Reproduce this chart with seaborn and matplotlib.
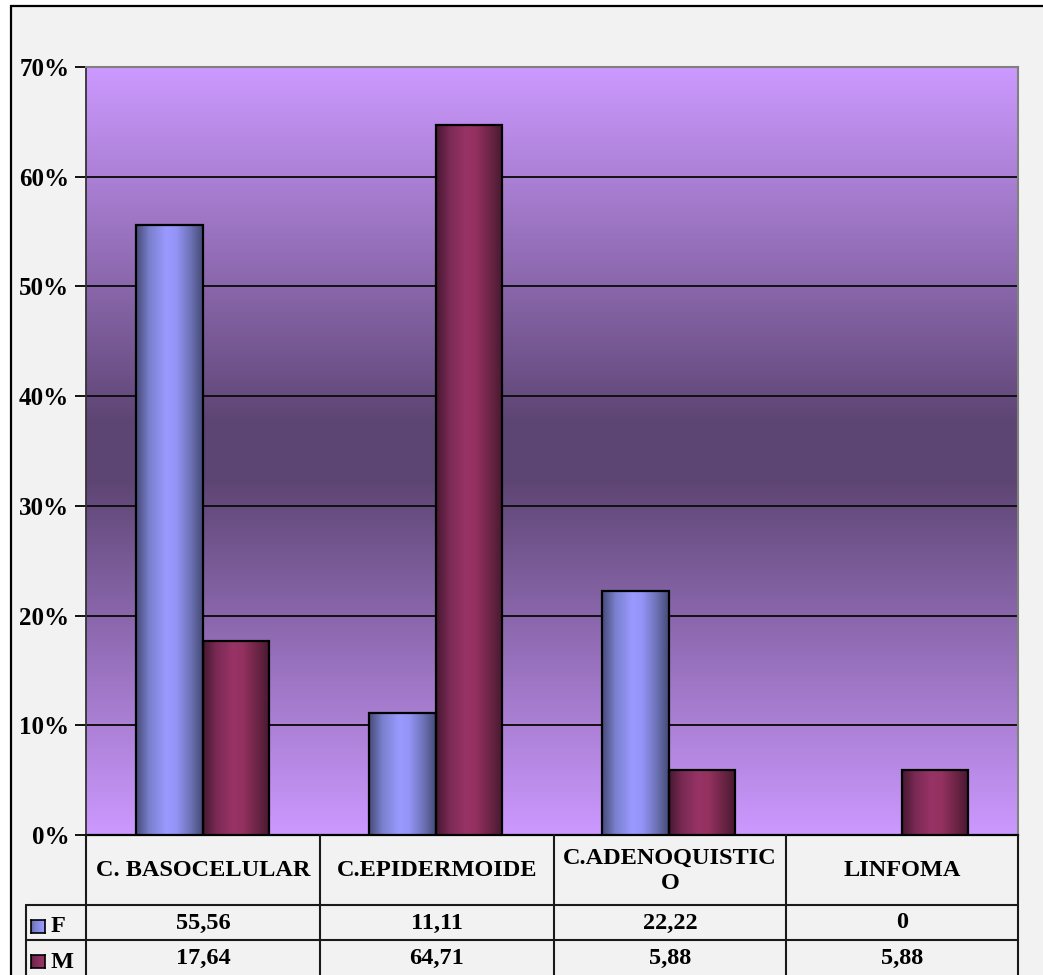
import numpy as np
import pandas as pd
import matplotlib
matplotlib.use("Agg")
import matplotlib.pyplot as plt
import seaborn as sns
from matplotlib.colors import LinearSegmentedColormap, to_rgb
from matplotlib.patches import Rectangle
from matplotlib.lines import Line2D

categories = ["C. BASOCELULAR", "C.EPIDERMOIDE", "C.ADENOQUISTIC\nO", "LINFOMA"]
series_names = ["F", "M"]
values_f = [55.56, 11.11, 22.22, 0]
values_m = [17.64, 64.71, 5.88, 5.88]
table_f = ["55,56", "11,11", "22,22", "0"]
table_m = ["17,64", "64,71", "5,88", "5,88"]
yticks = [0, 10, 20, 30, 40, 50, 60, 70]

W, H = 1043, 975
sns.set_theme(style="white")
plt.rcParams["font.family"] = ["Liberation Serif", "DejaVu Serif"]
plt.rcParams["font.weight"] = "bold"

FS = 17.5

fig = plt.figure(figsize=(W / 100, H / 100), dpi=100, facecolor="white")

def fx(x):
    return x / W

def fy(y):
    return 1 - y / H

# outer frame
fig.add_artist(Rectangle((fx(11), fy(975) - 0.01), fx(1043) - fx(11) + 0.01, fy(6) - fy(975) + 0.01,
                         transform=fig.transFigure, facecolor="#f2f2f2",
                         edgecolor="black", linewidth=1.6, zorder=0))

L, R, T, B = 86, 1018, 67, 835
ax = fig.add_axes([fx(L), fy(B), fx(R) - fx(L), fy(T) - fy(B)])

df = pd.DataFrame({
    "cat": categories * 2,
    "val": values_f + values_m,
    "sex": [series_names[0]] * 4 + [series_names[1]] * 4,
})

sns.barplot(data=df, x="cat", y="val", hue="sex", order=categories,
            hue_order=series_names, palette=["#9999ff", "#993366"],
            width=0.57, legend=False, ax=ax, errorbar=None, saturation=1, gap=0)

# background gradient
light = np.array(to_rgb("#cc99ff"))
dark = np.array(to_rgb("#5d4573"))
t = np.linspace(0, 1, 400)
f = np.abs(t - 0.5) * 2
f = np.clip((f - 0.08) / 0.92, 0, 1) ** 0.95
grad = dark[None, :] + (light - dark)[None, :] * f[:, None]
ax.imshow(grad[:, None, :], extent=[0, 1, 0, 1], transform=ax.transAxes,
          aspect="auto", zorder=0, origin="lower", interpolation="bilinear")

cm_f = LinearSegmentedColormap.from_list("cf", [
    (0.0, "#464a78"), (0.2, "#7a80cc"), (0.45, "#9999ff"), (0.6, "#9494f8"),
    (0.82, "#6c72b4"), (1.0, "#464a78")])
cm_m = LinearSegmentedColormap.from_list("cm", [
    (0.0, "#461830"), (0.2, "#7a2a55"), (0.45, "#993366"), (0.6, "#93315f"),
    (0.82, "#6a2445"), (1.0, "#461830")])

row = np.linspace(0, 1, 256)[None, :]
n = len(categories)
for i, p in enumerate(list(ax.patches)):
    x0, w, h = p.get_x(), p.get_width(), p.get_height()
    if h <= 0:
        p.set_visible(False)
        continue
    cmap = cm_f if i < n else cm_m
    im = ax.imshow(row, extent=[x0, x0 + w, 0, h], aspect="auto", cmap=cmap,
                   zorder=3, interpolation="bilinear")
    im.set_clip_path(p)
    p.set_facecolor("none")
    p.set_edgecolor("black")
    p.set_linewidth(1.6)
    p.set_zorder(4)

ax.set_xlim(-0.5, 3.5)
ax.set_ylim(0, 70)
ax.set_yticks(yticks)
ax.set_yticklabels([f"{v}%" for v in yticks], fontsize=FS + 0.5, fontweight="bold",
                   fontfamily="Liberation Serif", color="black")
ax.tick_params(axis="y", length=8, width=1.3, color="black", pad=4, left=True)
ax.tick_params(axis="x", length=0, labelbottom=False)
ax.set_xlabel("")
ax.set_ylabel("")
ax.yaxis.grid(True, color="#111111", linewidth=1.4)
ax.set_axisbelow(True)
for s in ["top", "right"]:
    ax.spines[s].set_color("#808080")
    ax.spines[s].set_linewidth(1.5)
ax.spines["left"].set_color("#333333")
ax.spines["left"].set_linewidth(1.3)
ax.spines["bottom"].set_color("black")
ax.spines["bottom"].set_linewidth(1.6)

# data table
def hline(y, x0, x1, lw=1.5):
    fig.add_artist(Line2D([fx(x0), fx(x1)], [fy(y), fy(y)], transform=fig.transFigure,
                          color="#1a1a1a", linewidth=lw))

def vline(x, y0, y1, lw=1.5):
    fig.add_artist(Line2D([fx(x), fx(x)], [fy(y0), fy(y1)], transform=fig.transFigure,
                          color="#1a1a1a", linewidth=lw))

cols = [86, 320, 554, 786, 1018]
for x in cols:
    vline(x, 835, 976)
vline(26, 905, 976)
hline(905, 26, 1018)
hline(940, 26, 1018)

tkw = dict(transform=fig.transFigure, ha="center", va="center", fontsize=FS,
           fontweight="bold", fontfamily="Liberation Serif", color="black")
for i in range(n):
    cx = (cols[i] + cols[i + 1]) / 2
    fig.text(fx(cx), fy(871), categories[i], linespacing=1.3, **tkw)
    fig.text(fx(cx), fy(923), table_f[i], **tkw)
    fig.text(fx(cx), fy(958), table_m[i], **tkw)

# legend keys
for (yk, cmap, name) in [(920, cm_f, series_names[0]), (955, cm_m, series_names[1])]:
    kax = fig.add_axes([fx(31), fy(yk + 13), fx(45) - fx(31), fy(yk) - fy(yk + 13)])
    kax.imshow(np.linspace(0.1, 0.5, 64)[None, :], cmap=cmap, aspect="auto",
               vmin=0, vmax=1, interpolation="bilinear")
    kax.set_xticks([])
    kax.set_yticks([])
    for s in kax.spines.values():
        s.set_color("black")
        s.set_linewidth(1.2)
    fig.text(fx(51), fy(yk + 7), name, transform=fig.transFigure, ha="left",
             va="center", fontsize=FS, fontweight="bold",
             fontfamily="Liberation Serif", color="black")

fig.savefig("out.png", dpi=100, facecolor="white")
